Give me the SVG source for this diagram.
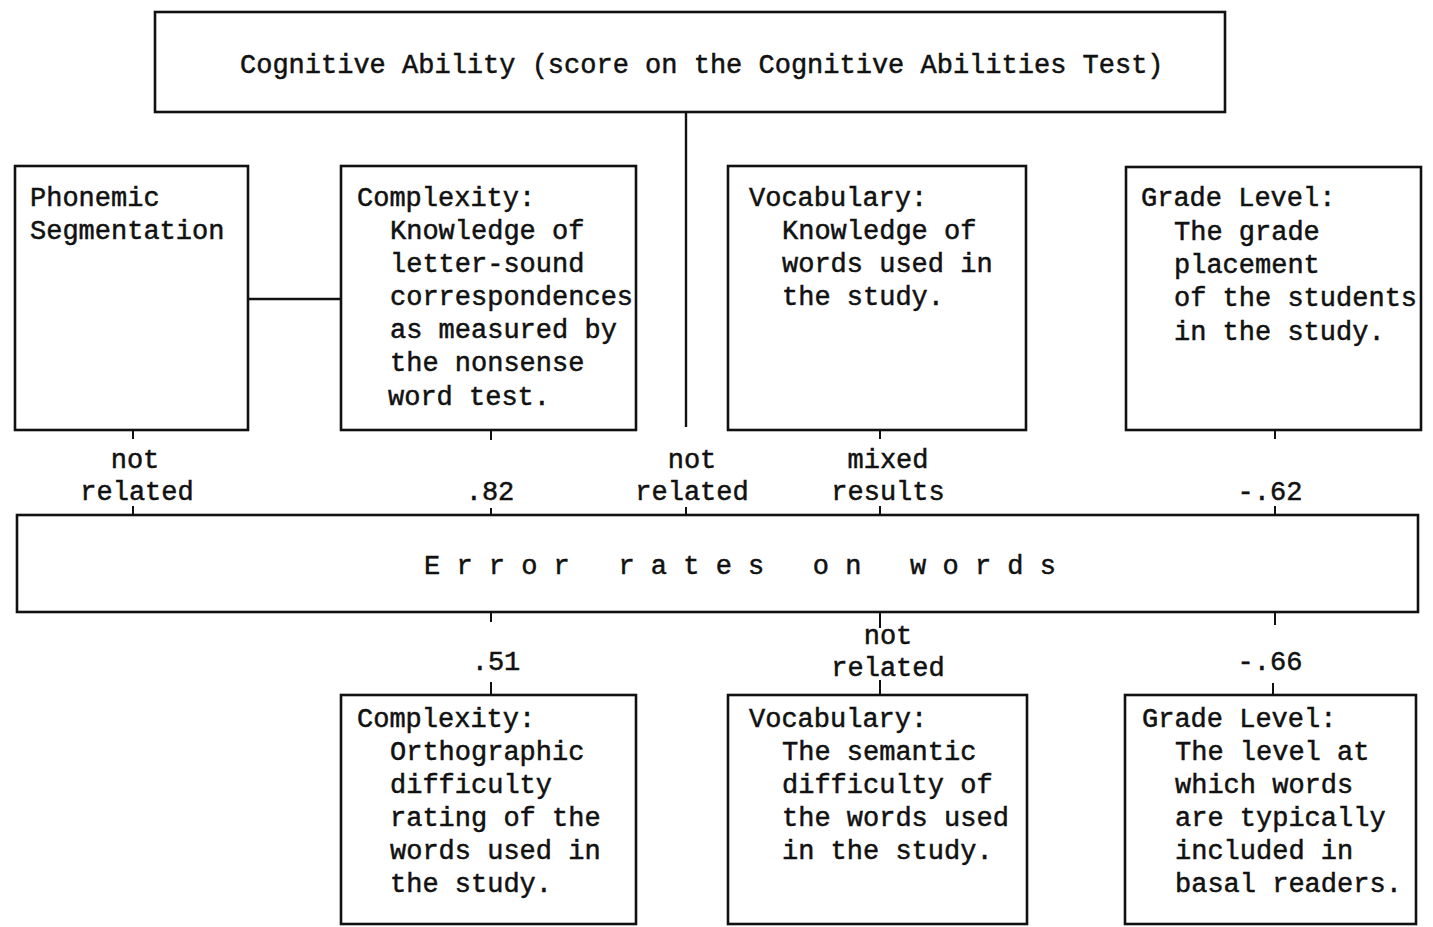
<svg xmlns="http://www.w3.org/2000/svg" width="1433" height="927" viewBox="0 0 1433 927">
<style>
.box{fill:#fff;stroke:#111;stroke-width:2.6}
.ln{stroke:#111;stroke-width:2.4;fill:none}
.tk{stroke:#111;stroke-width:2;fill:none}
text{font-family:"Liberation Mono","Courier New",monospace;font-size:27px;fill:#111;stroke:#111;stroke-width:0.5}
.c{text-anchor:middle}
</style>
<rect width="1433" height="927" fill="#fff"/>
<g id="connectors">
<line class="ln" x1="686" y1="112" x2="686" y2="427"/>
<line class="ln" x1="248" y1="299" x2="341" y2="299"/>
<line class="tk" x1="133" y1="430" x2="133" y2="439"/>
<line class="tk" x1="491" y1="430" x2="491" y2="440"/>
<line class="tk" x1="880" y1="430" x2="880" y2="439"/>
<line class="tk" x1="1275" y1="430" x2="1275" y2="439"/>
<line class="tk" x1="133" y1="506" x2="133" y2="515"/>
<line class="tk" x1="491" y1="508" x2="491" y2="515"/>
<line class="tk" x1="686" y1="507" x2="686" y2="515"/>
<line class="tk" x1="880" y1="506" x2="880" y2="515"/>
<line class="tk" x1="1275" y1="506" x2="1275" y2="515"/>
<line class="tk" x1="491" y1="612" x2="491" y2="622"/>
<line class="tk" x1="880" y1="612" x2="880" y2="628"/>
<line class="tk" x1="1275" y1="612" x2="1275" y2="625"/>
<line class="tk" x1="491" y1="682" x2="491" y2="695"/>
<line class="tk" x1="880" y1="680" x2="880" y2="695"/>
<line class="tk" x1="1273" y1="683" x2="1273" y2="695"/>
</g>
<g id="labels">
<text class="c" x="135" y="468">not</text>
<text class="c" x="137" y="500">related</text>
<text class="c" x="490" y="500">.82</text>
<text class="c" x="692" y="468">not</text>
<text class="c" x="692" y="500">related</text>
<text class="c" x="888" y="468">mixed</text>
<text class="c" x="888" y="500">results</text>
<text class="c" x="1270" y="500">-.62</text>
<text class="c" x="496" y="670">.51</text>
<text class="c" x="888" y="644">not</text>
<text class="c" x="888" y="676">related</text>
<text class="c" x="1270" y="670">-.66</text>
</g>
<g id="cognitive">
<rect class="box" x="155" y="12" width="1070" height="100"/>
<text x="240" y="73">Cognitive Ability (score on the Cognitive Abilities Test)</text>
</g>
<g id="phonemic">
<rect class="box" x="15" y="166" width="233" height="264"/>
<text x="30" y="206">Phonemic</text>
<text x="30" y="239">Segmentation</text>
</g>
<g id="complexity-top">
<rect class="box" x="341" y="166" width="295" height="264"/>
<text x="357" y="206">Complexity:</text>
<text x="390" y="239">Knowledge of</text>
<text x="390" y="272">letter-sound</text>
<text x="390" y="305">correspondences</text>
<text x="390" y="338">as measured by</text>
<text x="390" y="371">the nonsense</text>
<text x="388" y="405">word test.</text>
</g>
<g id="vocabulary-top">
<rect class="box" x="728" y="166" width="298" height="264"/>
<text x="749" y="206">Vocabulary:</text>
<text x="782" y="239">Knowledge of</text>
<text x="782" y="272">words used in</text>
<text x="782" y="305">the study.</text>
</g>
<g id="grade-top">
<rect class="box" x="1126" y="167" width="295" height="263"/>
<text x="1141" y="206">Grade Level:</text>
<text x="1174" y="240">The grade</text>
<text x="1174" y="273">placement</text>
<text x="1174" y="306">of the students</text>
<text x="1174" y="340">in the study.</text>
</g>
<g id="error-rates">
<rect class="box" x="17" y="515" width="1401" height="97"/>
<text x="424" y="574" xml:space="preserve">E r r o r   r a t e s   o n   w o r d s</text>
</g>
<g id="complexity-bottom">
<rect class="box" x="341" y="695" width="295" height="229"/>
<text x="357" y="727">Complexity:</text>
<text x="390" y="760">Orthographic</text>
<text x="390" y="793">difficulty</text>
<text x="390" y="826">rating of the</text>
<text x="390" y="859">words used in</text>
<text x="390" y="892">the study.</text>
</g>
<g id="vocabulary-bottom">
<rect class="box" x="728" y="695" width="299" height="229"/>
<text x="749" y="727">Vocabulary:</text>
<text x="782" y="760">The semantic</text>
<text x="782" y="793">difficulty of</text>
<text x="782" y="826">the words used</text>
<text x="782" y="859">in the study.</text>
</g>
<g id="grade-bottom">
<rect class="box" x="1125" y="695" width="291" height="229"/>
<text x="1142" y="727">Grade Level:</text>
<text x="1175" y="760">The level at</text>
<text x="1175" y="793">which words</text>
<text x="1175" y="826">are typically</text>
<text x="1175" y="859">included in</text>
<text x="1175" y="892">basal readers.</text>
</g>
</svg>
